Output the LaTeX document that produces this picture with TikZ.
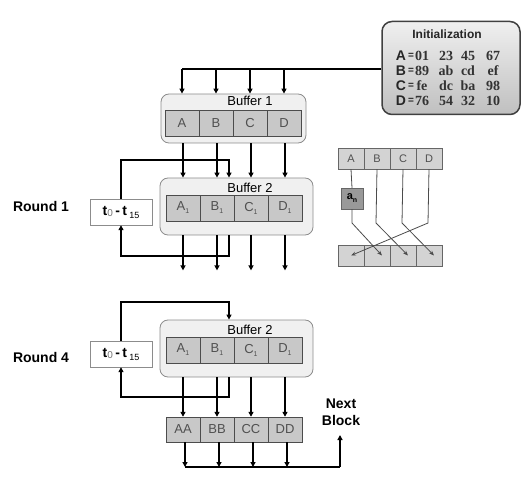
\documentclass[tikz,border=0pt]{standalone}
\usepackage{fontspec}
\setmainfont{Liberation Sans}
\setmonofont{Liberation Mono}
\newfontfamily\valfont{Liberation Serif}
\usetikzlibrary{arrows.meta,calc}
\definecolor{cellgray}{HTML}{C8C8C8}
\definecolor{bufgray}{HTML}{F0F0F0}
\definecolor{bordgray}{HTML}{8C8C8C}
\definecolor{txtgray}{HTML}{505050}
\definecolor{angray}{HTML}{999999}
\newcommand{\mysub}[1]{\raisebox{-3pt}{\fontsize{7}{7}\selectfont #1}}
\newcommand{\trange}{t\raisebox{-1pt}{\mdseries\fontsize{10}{10}\selectfont\textcolor{black!55}{0}}\,-\,t\,\raisebox{-3pt}{\mdseries\fontsize{9}{9}\selectfont 15}}
\begin{document}
\begin{tikzpicture}[x=1pt,y=-1pt,
 cell/.style={draw=black!70,fill=cellgray,minimum width=34pt,minimum height=26pt,inner sep=0pt,font=\fontsize{13}{14}\selectfont,text=txtgray},
 scell/.style={draw=black!60,fill=cellgray!80,minimum width=26pt,minimum height=21pt,inner sep=0pt,font=\fontsize{11}{12}\selectfont,text=txtgray},
 buf/.style={draw=bordgray,fill=bufgray,rounded corners=8pt,line width=0.8pt,inner sep=0pt},
 arr/.style={line width=1.3pt,-{Triangle[length=5pt,width=5pt]}},
 ln/.style={line width=1.3pt},
 thin/.style={draw=black!70,line width=0.8pt},
 tarr/.style={thin,-{Stealth[length=5pt,width=4pt]}},
 tbox/.style={draw=bordgray,fill=white,minimum width=62pt,minimum height=26pt,inner sep=0pt,font=\bfseries\fontsize{14}{15}\selectfont},
 lbl/.style={font=\bfseries\fontsize{14}{17}\selectfont,align=center},
 btitle/.style={font=\fontsize{13}{14}\selectfont},
 ival/.style={font=\valfont\bfseries\fontsize{14}{14}\selectfont,text=black!80},
 ilet/.style={font=\bfseries\fontsize{14}{14}\selectfont,text=black!85}]
\useasboundingbox (0,0) rectangle (528,484);
\clip (0,0) rectangle (528,484);
% Initialization box
\node[draw=black!75,line width=1.5pt,rounded corners=10pt,top color=gray!12,bottom color=gray!50,minimum width=138pt,minimum height=93pt,inner sep=0pt] (init) at (451,68) {};
\node[font=\bfseries\fontsize{12}{13}\selectfont,text=black!85] (ititle) at (447,34) {Initialization};
\foreach \L/\y/\a/\b/\c/\d [count=\r] in {A/56/01/23/45/67,B/71/89/ab/cd/ef,C/86/fe/dc/ba/98,D/101/76/54/32/10}{
  \node[ilet] (il\r) at (401,\y) {\L};
  \node[ilet,font=\bfseries\fontsize{10}{10}\selectfont] (ie\r) at (411,\y) {=};
  \node[ival] (iva\r) at (422,\y) {\a};
  \node[ival] (ivb\r) at (446,\y) {\b};
  \node[ival] (ivc\r) at (468,\y) {\c};
  \node[ival] (ivd\r) at (493,\y) {\d};
}
% Buffer 1
\node[buf,minimum width=145pt,minimum height=49pt] (buf1) at (233.5,118.5) {};
\node[btitle] (t_buf1) at (250,101) {Buffer 1};
\node[cell] (b1a) at (182,123.5) {A};
\node[cell] (b1b) at (216,123.5) {B};
\node[cell] (b1c) at (250,123.5) {C};
\node[cell] (b1d) at (284,123.5) {D};
\coordinate (itop) at (182,69);
\draw[ln] (init.west |- itop) -- (itop);
\foreach \n in {b1a,b1b,b1c,b1d}{
  \draw[arr] (\n |- itop) -- (\n |- buf1.north);
}
% Round 1
\node[lbl] (r1) at (41,206) {Round 1};
\node[buf,minimum width=153pt,minimum height=57pt] (buf2) at (236.5,206.5) {};
\node[btitle] (t_buf2) at (250,188) {Buffer 2};
\node[cell] (b2a) at (183,208) {A\mysub{1}};
\node[cell] (b2b) at (217,208) {B\mysub{1}};
\node[cell] (b2c) at (251,208) {C\mysub{1}};
\node[cell] (b2d) at (285,208) {D\mysub{1}};
\node[tbox] (tb1) at (121,212) {\trange};
\foreach \n in {b2a,b2b,b2c,b2d}{
  \draw[arr] (\n |- buf1.south) -- (\n |- buf2.north);
  \draw[arr] (\n |- buf2.south) -- ++(0,35);
}
\coordinate (lp1) at (229,160);
\draw[arr] (tb1.north) |- (lp1) -- (lp1 |- buf2.north);
\coordinate (lq1) at (229,256);
\draw[arr] (lq1 |- buf2.south) -- (lq1) -| (tb1.south);
% Right diagram
\node[scell] (sa) at (351,158.5) {A};
\node[scell] (sb) at (377,158.5) {B};
\node[scell] (sc) at (403,158.5) {C};
\node[scell] (sd) at (429,158.5) {D};
\node[draw=black!60,fill=angray,minimum width=22pt,minimum height=21pt,inner sep=0pt,font=\bfseries\fontsize{11}{11}\selectfont] (an) at (352,198.5) {a\mysub{n}};
\node[scell] (ta) at (351,255.5) {};
\node[scell] (tb) at (377,255.5) {};
\node[scell] (tc) at (403,255.5) {};
\node[scell] (td) at (429,255.5) {};
\draw[thin] (sa.south) -- (an.north);
\draw[tarr] (an.south) -- (352,223) -- ([xshift=5pt]tb.center);
\draw[tarr] (sb.south) -- (376,223) -- ([xshift=5pt]tc.center);
\draw[tarr] (sc.south) -- (402,223) -- ([xshift=5pt]td.center);
\draw[tarr] (sd.south) -- (428,223) -- (ta.center);
% Round 4
\node[lbl] (r4) at (41,357) {Round 4};
\node[buf,minimum width=153pt,minimum height=57pt] (buf4) at (236.5,348.5) {};
\node[btitle] (t_buf4) at (250,330) {Buffer 2};
\node[cell] (b4a) at (183,350) {A\mysub{1}};
\node[cell] (b4b) at (217,350) {B\mysub{1}};
\node[cell] (b4c) at (251,350) {C\mysub{1}};
\node[cell] (b4d) at (285,350) {D\mysub{1}};
\node[tbox] (tb4) at (121,354) {\trange};
\coordinate (lp4) at (229,302);
\draw[arr] (tb4.north) |- (lp4) -- (lp4 |- buf4.north);
\coordinate (lq4) at (229,397);
\draw[arr] (lq4 |- buf4.south) -- (lq4) -| (tb4.south);
\node[cell,minimum height=25pt] (oa) at (183,429.5) {AA};
\node[cell,minimum height=25pt] (ob) at (217,429.5) {BB};
\node[cell,minimum height=25pt] (oc) at (251,429.5) {CC};
\node[cell,minimum height=25pt] (od) at (285,429.5) {DD};
\foreach \s/\t in {b4a/oa,b4b/ob,b4c/oc,b4d/od}{
  \draw[arr] (\s |- buf4.south) -- (\t.north);
}
\node[lbl] (nb) at (341,412) {Next\\Block};
\coordinate (bot) at (340,467);
\draw[ln] ([xshift=2pt]oa.south |- bot) -- (bot);
\foreach \t in {oa,ob,oc,od}{
  \draw[arr] ([xshift=2pt]\t.south) -- ([xshift=2pt]\t.south |- bot);
}
\draw[arr] (bot) -- (340,435);
\end{tikzpicture}
\end{document}
